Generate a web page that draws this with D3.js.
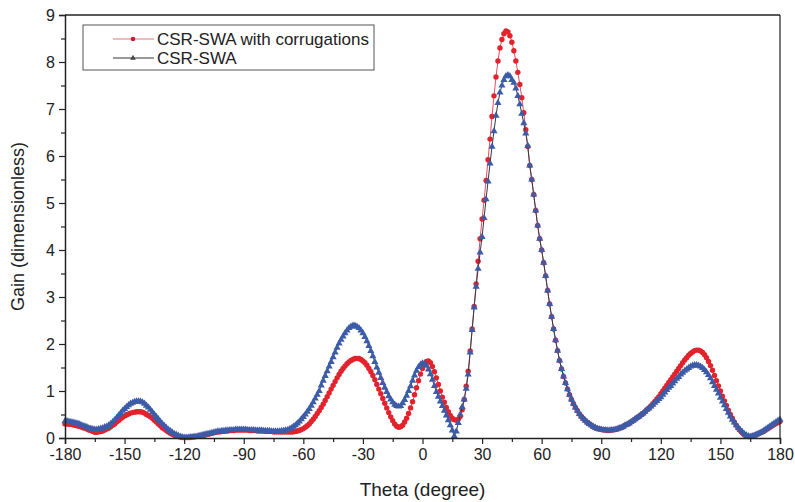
<!DOCTYPE html>
<html>
<head>
<meta charset="utf-8">
<script src="https://cdn.jsdelivr.net/npm/d3@7"></script>
<style>
  body { margin: 0; background: #fff; }
  svg { font-family: "Liberation Sans", Arial, sans-serif; }
</style>
</head>
<body>
<div id="chart"></div>
<script>
// angle grid: -180..180 in 1 degree steps
const thetaStart = -180;
const thetaStep = 1;

const seriesNames = ['CSR-SWA with corrugations', 'CSR-SWA'];

// CSR-SWA with corrugations (red circles)
const gainCorrugated = [
  0.30, 0.30, 0.29, 0.29, 0.28, 0.27, 0.26, 0.25, 0.24, 0.22,   // -180
  0.21, 0.19, 0.17, 0.16, 0.14, 0.12, 0.12, 0.13, 0.14, 0.15,   // -170
  0.17, 0.19, 0.21, 0.24, 0.27, 0.30, 0.34, 0.37, 0.41, 0.44,   // -160
  0.47, 0.49, 0.51, 0.53, 0.54, 0.55, 0.56, 0.56, 0.56, 0.55,   // -150
  0.53, 0.50, 0.48, 0.45, 0.42, 0.38, 0.34, 0.30, 0.26, 0.22,   // -140
  0.19, 0.16, 0.13, 0.10, 0.08, 0.06, 0.04, 0.03, 0.02, 0.01,   // -130
  0.01, 0.01, 0.01, 0.01, 0.02, 0.02, 0.03, 0.04, 0.04, 0.05,   // -120
  0.06, 0.07, 0.08, 0.09, 0.10, 0.11, 0.12, 0.13, 0.13, 0.14,   // -110
  0.14, 0.15, 0.15, 0.16, 0.16, 0.16, 0.17, 0.17, 0.17, 0.17,   // -100
  0.17, 0.17, 0.17, 0.16, 0.16, 0.16, 0.16, 0.15, 0.15, 0.15,   // -90
  0.15, 0.14, 0.14, 0.14, 0.14, 0.13, 0.13, 0.13, 0.13, 0.13,   // -80
  0.13, 0.13, 0.13, 0.13, 0.13, 0.13, 0.14, 0.15, 0.16, 0.18,   // -70
  0.20, 0.23, 0.26, 0.30, 0.35, 0.40, 0.46, 0.52, 0.58, 0.65,   // -60
  0.72, 0.80, 0.88, 0.96, 1.04, 1.12, 1.20, 1.28, 1.35, 1.42,   // -50
  1.48, 1.53, 1.58, 1.62, 1.65, 1.67, 1.69, 1.69, 1.69, 1.67,   // -40
  1.64, 1.60, 1.55, 1.48, 1.41, 1.33, 1.24, 1.14, 1.04, 0.94,   // -30
  0.84, 0.74, 0.64, 0.54, 0.45, 0.37, 0.30, 0.25, 0.23, 0.24,   // -20
  0.27, 0.34, 0.42, 0.52, 0.64, 0.77, 0.92, 1.07, 1.22, 1.36,   // -10
  1.48, 1.57, 1.63, 1.64, 1.60, 1.52, 1.41, 1.28, 1.14, 1.00,   // 0
  0.87, 0.76, 0.65, 0.56, 0.48, 0.42, 0.39, 0.38, 0.40, 0.46,   // 10
  0.60, 0.82, 1.10, 1.42, 1.85, 2.32, 2.80, 3.28, 3.76, 4.24,   // 20
  4.66, 5.06, 5.48, 5.92, 6.36, 6.84, 7.28, 7.68, 8.02, 8.30,   // 30
  8.48, 8.60, 8.66, 8.64, 8.56, 8.42, 8.24, 8.02, 7.78, 7.52,   // 40
  7.24, 6.92, 6.56, 6.20, 5.80, 5.50, 5.18, 4.84, 4.52, 4.24,   // 50
  4.00, 3.73, 3.45, 3.14, 2.85, 2.58, 2.32, 2.08, 1.86, 1.65,   // 60
  1.47, 1.31, 1.17, 1.04, 0.92, 0.82, 0.73, 0.65, 0.58, 0.51,   // 70
  0.46, 0.41, 0.37, 0.33, 0.30, 0.27, 0.24, 0.22, 0.20, 0.19,   // 80
  0.18, 0.17, 0.17, 0.16, 0.16, 0.17, 0.17, 0.18, 0.19, 0.21,   // 90
  0.22, 0.24, 0.27, 0.29, 0.31, 0.34, 0.37, 0.40, 0.43, 0.46,   // 100
  0.49, 0.52, 0.56, 0.60, 0.64, 0.68, 0.73, 0.78, 0.83, 0.88,   // 110
  0.94, 1.00, 1.06, 1.12, 1.18, 1.24, 1.30, 1.36, 1.42, 1.48,   // 120
  1.54, 1.60, 1.66, 1.71, 1.76, 1.80, 1.83, 1.86, 1.87, 1.87,   // 130
  1.85, 1.82, 1.77, 1.71, 1.63, 1.54, 1.44, 1.33, 1.22, 1.11,   // 140
  1.00, 0.89, 0.79, 0.69, 0.59, 0.50, 0.42, 0.34, 0.27, 0.21,   // 150
  0.16, 0.11, 0.07, 0.04, 0.03, 0.03, 0.04, 0.05, 0.07, 0.09,   // 160
  0.11, 0.13, 0.15, 0.18, 0.20, 0.23, 0.26, 0.28, 0.31, 0.33,   // 170
  0.35                                                          // 180
];

// CSR-SWA (blue triangles)
const gainPlain = [
  0.36, 0.36, 0.35, 0.34, 0.33, 0.32, 0.31, 0.30, 0.28, 0.26,   // -180
  0.25, 0.23, 0.21, 0.20, 0.19, 0.18, 0.18, 0.19, 0.20, 0.21,   // -170
  0.23, 0.24, 0.27, 0.30, 0.34, 0.38, 0.43, 0.48, 0.53, 0.58,   // -160
  0.62, 0.66, 0.70, 0.73, 0.75, 0.77, 0.78, 0.78, 0.78, 0.76,   // -150
  0.73, 0.69, 0.65, 0.60, 0.55, 0.50, 0.45, 0.40, 0.35, 0.30,   // -140
  0.26, 0.22, 0.18, 0.15, 0.12, 0.09, 0.07, 0.05, 0.03, 0.02,   // -130
  0.01, 0.01, 0.01, 0.02, 0.02, 0.03, 0.03, 0.04, 0.05, 0.06,   // -120
  0.07, 0.08, 0.09, 0.10, 0.11, 0.12, 0.13, 0.14, 0.14, 0.15,   // -110
  0.15, 0.16, 0.16, 0.17, 0.17, 0.17, 0.18, 0.18, 0.18, 0.18,   // -100
  0.18, 0.18, 0.17, 0.17, 0.17, 0.17, 0.16, 0.16, 0.16, 0.16,   // -90
  0.15, 0.15, 0.15, 0.15, 0.14, 0.14, 0.14, 0.14, 0.14, 0.15,   // -80
  0.15, 0.16, 0.17, 0.19, 0.21, 0.24, 0.27, 0.31, 0.35, 0.40,   // -70
  0.45, 0.50, 0.56, 0.62, 0.69, 0.76, 0.84, 0.92, 1.00, 1.12,   // -60
  1.22, 1.32, 1.42, 1.52, 1.62, 1.72, 1.82, 1.92, 2.01, 2.09,   // -50
  2.16, 2.23, 2.29, 2.34, 2.37, 2.39, 2.39, 2.37, 2.34, 2.29,   // -40
  2.23, 2.15, 2.06, 1.96, 1.85, 1.74, 1.62, 1.50, 1.39, 1.28,   // -30
  1.17, 1.07, 0.98, 0.89, 0.82, 0.76, 0.71, 0.68, 0.67, 0.68,   // -20
  0.74, 0.81, 0.90, 1.00, 1.10, 1.22, 1.33, 1.43, 1.51, 1.56,   // -10
  1.59, 1.58, 1.54, 1.46, 1.36, 1.24, 1.11, 0.98, 0.88, 0.78,   // 0
  0.68, 0.58, 0.48, 0.38, 0.27, 0.16, 0.04, 0.14, 0.32, 0.50,   // 10
  0.66, 0.82, 1.05, 1.35, 1.82, 2.30, 2.78, 3.22, 3.60, 3.95,   // 20
  4.28, 4.68, 5.08, 5.46, 5.84, 6.20, 6.53, 6.86, 7.13, 7.35,   // 30
  7.50, 7.62, 7.70, 7.72, 7.70, 7.62, 7.56, 7.44, 7.28, 7.10,   // 40
  6.90, 6.70, 6.48, 6.22, 5.80, 5.50, 5.18, 4.84, 4.52, 4.24,   // 50
  4.00, 3.73, 3.45, 3.14, 2.85, 2.58, 2.32, 2.08, 1.86, 1.65,   // 60
  1.47, 1.31, 1.17, 1.04, 0.92, 0.82, 0.73, 0.65, 0.58, 0.51,   // 70
  0.46, 0.41, 0.37, 0.33, 0.30, 0.27, 0.24, 0.22, 0.20, 0.19,   // 80
  0.18, 0.17, 0.17, 0.16, 0.16, 0.17, 0.17, 0.18, 0.19, 0.21,   // 90
  0.22, 0.24, 0.27, 0.29, 0.31, 0.34, 0.37, 0.40, 0.43, 0.46,   // 100
  0.49, 0.52, 0.56, 0.60, 0.63, 0.67, 0.71, 0.75, 0.79, 0.83,   // 110
  0.87, 0.92, 0.97, 1.02, 1.07, 1.11, 1.16, 1.21, 1.26, 1.30,   // 120
  1.35, 1.39, 1.43, 1.46, 1.49, 1.52, 1.54, 1.55, 1.55, 1.54,   // 130
  1.52, 1.49, 1.45, 1.40, 1.34, 1.27, 1.19, 1.11, 1.03, 0.95,   // 140
  0.86, 0.78, 0.70, 0.62, 0.54, 0.46, 0.39, 0.33, 0.27, 0.22,   // 150
  0.17, 0.13, 0.09, 0.06, 0.04, 0.03, 0.04, 0.05, 0.07, 0.09,   // 160
  0.11, 0.13, 0.16, 0.19, 0.22, 0.25, 0.28, 0.31, 0.34, 0.37,   // 170
  0.39                                                          // 180
];

const xTicks = [-180, -150, -120, -90, -60, -30, 0, 30, 60, 90, 120, 150, 180];
const yTicks = [0, 1, 2, 3, 4, 5, 6, 7, 8, 9];

const width = 795, height = 502;
const margin = { top: 15, right: 15, bottom: 64, left: 65 };

const svg = d3.select('#chart').append('svg')
  .attr('width', width)
  .attr('height', height);

const x = d3.scaleLinear().domain([-180, 180]).range([margin.left, width - margin.right]);
const y = d3.scaleLinear().domain([0, 9]).range([height - margin.bottom, margin.top]);

const toPoints = vals => vals.map((v, i) => ({ t: thetaStart + i * thetaStep, g: v }));
const red = toPoints(gainCorrugated);
const blue = toPoints(gainPlain);

const line = d3.line().x(d => x(d.t)).y(d => y(d.g));

const plot = svg.append('g');

// red series
plot.append('path').datum(red)
  .attr('d', line).attr('fill', 'none')
  .attr('stroke', '#e05060').attr('stroke-width', 1);
plot.append('g').selectAll('circle').data(red).join('circle')
  .attr('cx', d => x(d.t)).attr('cy', d => y(d.g)).attr('r', 2.7)
  .attr('fill', '#e2222c');

// blue series on top
const tri = d3.symbol().type(d3.symbolTriangle).size(22);
plot.append('path').datum(blue)
  .attr('d', line).attr('fill', 'none')
  .attr('stroke', '#333844').attr('stroke-width', 1);
plot.append('g').selectAll('path').data(blue).join('path')
  .attr('d', tri)
  .attr('transform', d => `translate(${x(d.t)},${y(d.g)})`)
  .attr('fill', '#3c5ca8');

// axes (plain hyphen for negatives, like the original)
const fmt = d => String(d);
svg.append('g')
  .attr('transform', `translate(0,${y(0)})`)
  .call(d3.axisBottom(x).tickValues(xTicks).tickSize(6).tickPadding(5).tickFormat(fmt));
svg.append('g')
  .attr('transform', `translate(0,${y(0)})`)
  .call(d3.axisBottom(x).tickValues(xTicks.slice(0, -1).map(v => v + 15)).tickSize(4).tickFormat(''))
  .call(g => g.select('.domain').remove());

svg.append('g')
  .attr('transform', `translate(${x(-180)},0)`)
  .call(d3.axisLeft(y).tickValues(yTicks).tickSize(6).tickPadding(4).tickFormat(fmt));
svg.append('g')
  .attr('transform', `translate(${x(-180)},0)`)
  .call(d3.axisLeft(y).tickValues(yTicks.slice(0, -1).map(v => v + 0.5)).tickSize(4).tickFormat(''))
  .call(g => g.select('.domain').remove());

svg.selectAll('.domain').attr('stroke', '#222').attr('stroke-width', 1.5);
svg.selectAll('.tick line').attr('stroke', '#222').attr('stroke-width', 1.2);
svg.selectAll('.tick text').attr('font-size', 16).attr('fill', '#222')
  .attr('font-family', '"Liberation Sans", Arial, sans-serif');

// top and right frame
svg.append('line')
  .attr('x1', x(-180)).attr('x2', x(180)).attr('y1', y(9)).attr('y2', y(9))
  .attr('stroke', '#222').attr('stroke-width', 1.5);
svg.append('line')
  .attr('x1', x(180)).attr('x2', x(180)).attr('y1', y(9)).attr('y2', y(0))
  .attr('stroke', '#222').attr('stroke-width', 1.2);

// axis titles
svg.append('text')
  .attr('x', (x(-180) + x(180)) / 2).attr('y', 496)
  .attr('text-anchor', 'middle').attr('font-size', 19).attr('fill', '#222')
  .text('Theta (degree)');
svg.append('text')
  .attr('transform', `translate(24,${(y(0) + y(9)) / 2}) rotate(-90)`)
  .attr('text-anchor', 'middle').attr('font-size', 18).attr('fill', '#222')
  .text('Gain (dimensionless)');

// legend
const legend = svg.append('g');
legend.append('rect')
  .attr('x', 83).attr('y', 25).attr('width', 291).attr('height', 45)
  .attr('fill', '#fff').attr('stroke', '#555').attr('stroke-width', 1);

const legendRows = [
  { name: seriesNames[0], line: '#e07080', mark: 'circle', color: '#c02030' },
  { name: seriesNames[1], line: '#333', mark: 'tri', color: '#444' }
];
legendRows.forEach((r, i) => {
  const ly = 39 + i * 19;
  legend.append('line')
    .attr('x1', 113).attr('x2', 154).attr('y1', ly).attr('y2', ly)
    .attr('stroke', r.line).attr('stroke-width', 1);
  if (r.mark === 'circle') {
    legend.append('circle').attr('cx', 133).attr('cy', ly).attr('r', 2.3).attr('fill', r.color);
  } else {
    legend.append('path').attr('d', d3.symbol().type(d3.symbolTriangle).size(14))
      .attr('transform', `translate(133,${ly})`).attr('fill', r.color);
  }
  legend.append('text')
    .attr('x', 157).attr('y', ly + 6)
    .attr('font-size', 17).attr('fill', '#222')
    .text(r.name);
});
</script>
</body>
</html>
